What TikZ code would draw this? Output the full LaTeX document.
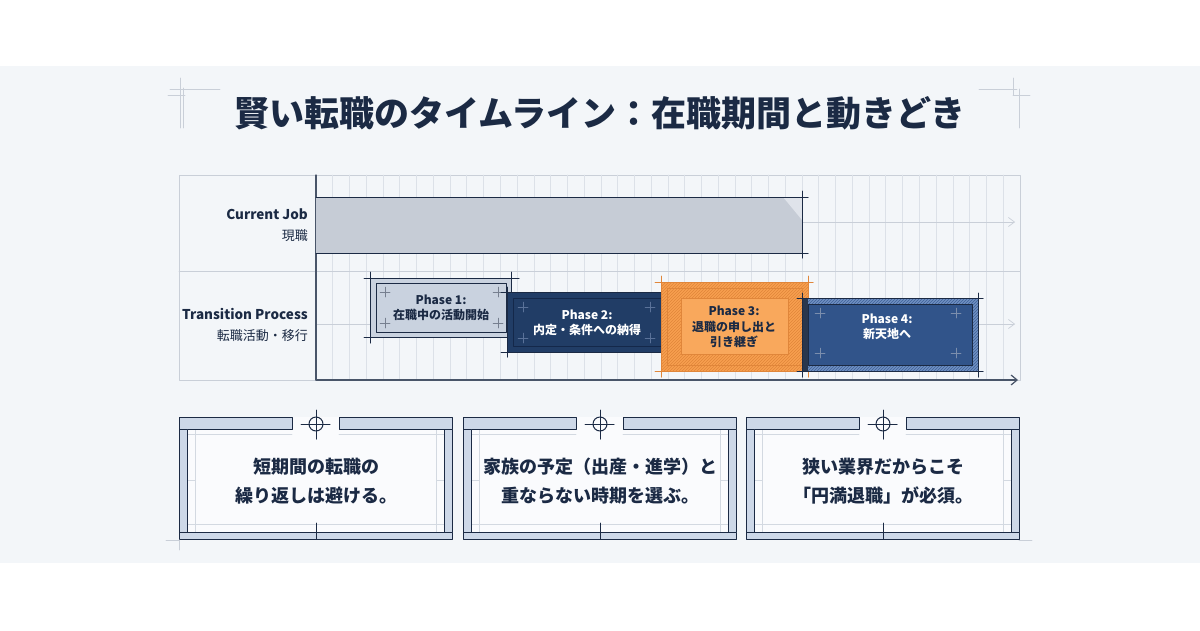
\documentclass[tikz,border=0pt]{standalone}
\usepackage{fontspec}
\setmainfont{Noto Sans CJK JP}
\usetikzlibrary{patterns,arrows.meta}

\definecolor{ink}{HTML}{1B2A44}
\definecolor{panel}{HTML}{F3F6F9}
\definecolor{gridgray}{HTML}{DCE1E8}
\definecolor{framegray}{HTML}{C9CFD8}
\definecolor{barsoft}{HTML}{C6CCD6}
\definecolor{barlight}{HTML}{DFE3EA}
\definecolor{phaseone}{HTML}{C9D2DF}
\definecolor{phasetwo}{HTML}{213D66}
\definecolor{phasetwoline}{HTML}{14284A}
\definecolor{phasetwoplus}{HTML}{5A7299}
\definecolor{phasethree}{HTML}{F7A04F}
\definecolor{phasethreein}{HTML}{F9A85C}
\definecolor{phasethreeline}{HTML}{E0863A}
\definecolor{phasefour}{HTML}{31548A}
\definecolor{phasefourstrip}{HTML}{7090C2}
\definecolor{phasefourhatch}{HTML}{3F6198}
\definecolor{stripblue}{HTML}{CDD8E8}
\definecolor{noteline}{HTML}{D3D9E1}

\tikzset{plusmk/.pic={\draw (-5,0) -- (5,0) (0,-5) -- (0,5);}}

\begin{document}
\begin{tikzpicture}[x=1pt, y=-1pt, line join=round, line cap=round,
  grid/.style={draw=gridgray, line width=0.7pt},
  edge/.style={draw=ink, line width=1pt},
  lab/.style={font=\bfseries\fontsize{13.5}{16}\selectfont, text=ink, anchor=east, inner sep=0pt},
  sublab/.style={font=\fontsize{13}{16}\selectfont, text=ink, anchor=east, inner sep=0pt},
  ph/.style={font=\bfseries\fontsize{12}{15.5}\selectfont, align=center, inner sep=0pt},
  note/.style={font=\bfseries\fontsize{18}{29}\selectfont, text=ink, align=center, inner sep=0pt},
  strip/.style={fill=stripblue, draw=ink, line width=0.9pt}
]
  \useasboundingbox (0,0) rectangle (1200,630);
  \fill[white] (0,0) rectangle (1200,630);
  \fill[panel] (0,66) rectangle (1200,563);

  % corner marks round the title
  \draw[framegray, line width=0.6pt] (170,89) -- (220,89) (180,78) -- (180,128)
    (168,95) -- (185,95) (183,88) -- (183,128);
  \draw[framegray, line width=0.6pt] (979,89) -- (1017,89) (1013,78) -- (1013,95)
    (1019,89) -- (1019,128) (1013,95) -- (1030,95);

  \node[text=ink, inner sep=0pt] (title) at (600,113)
    {\bfseries\fontsize{35}{40}\selectfont 賢い転職のタイムライン：在職期間と動きどき};

  % chart frame and grid
  \draw[framegray, line width=0.8pt] (179,175) rectangle (1020,380);
  \foreach \i in {1,...,41}
    \draw[grid] ({316+\i*16.76},175) -- ({316+\i*16.76},380);
  \draw[framegray, line width=0.8pt] (179,271) -- (1020,271);
  \draw[grid, draw=framegray, -{Straight Barb[length=6pt,width=9pt]}] (316,222) -- (1015,222);
  \draw[grid, draw=framegray, -{Straight Barb[length=6pt,width=9pt]}] (316,324) -- (1015,324);
  \draw[draw=ink!80, line width=1.2pt] (316,175) -- (316,380);
  \draw[draw=ink!80, line width=1.2pt, -{Straight Barb[length=6pt,width=10pt]}] (316,380) -- (1018,380);

  % row labels
  \node[lab] (curjob) at (308,214) {Current Job};
  \node[sublab] (curjobjp) at (308,236) {現職};
  \node[lab] (trans) at (308,314) {Transition Process};
  \node[sublab] (transjp) at (308,336) {転職活動・移行};

  % current job bar
  \fill[barsoft] (316,197) rectangle (802,253);
  \fill[barlight] (783,197) -- (802,197) -- (802,220) -- cycle;
  \draw[edge] (316,197) -- (808,197) (316,253) -- (808,253) (802,191) -- (802,258);

  % phase 1
  \fill[phaseone] (370,278) rectangle (511,337);
  \draw[edge] (364,278) -- (519,278) (364,337) -- (519,337)
    (370,272) -- (370,343) (511,272) -- (511,343);
  \draw[edge, line width=0.7pt] (376,283) rectangle (506,332);
  \foreach \p in {(385,292),(498,292),(385,323),(498,323)}
    \pic[draw=ink!60, line width=0.5pt] at \p {plusmk};
  \node[ph, text=ink] (ph1) at (441,308) {Phase 1:\\在職中の活動開始};

  % phase 2
  \fill[phasetwo] (507,292) rectangle (667,352);
  \draw[draw=phasetwoline, line width=0.8pt] (513,298) rectangle (661,346);
  \draw[edge] (501,292) -- (672,292) (501,352) -- (672,352)
    (507,287) -- (507,357) (667,287) -- (667,357);
  \foreach \p in {(523,307),(650,307),(523,338),(650,338)}
    \pic[draw=phasetwoplus, line width=0.5pt] at \p {plusmk};
  \node[ph, text=white] (ph2) at (587,323) {Phase 2:\\内定・条件への納得};

  % phase 3
  \fill[phasethree] (661,282) rectangle (808,371);
  \fill[pattern=north east lines, pattern color=phasethreeline] (661,282) rectangle (808,371);
  \draw[phasethreeline, line width=0.6pt] (667,288) rectangle (802,365);
  \draw[fill=phasethreein, draw=phasethreeline, line width=0.9pt] (681,298) rectangle (788,354);
  \draw[phasethreeline, line width=1pt] (655,282) -- (813,282) (655,371) -- (813,371)
    (661,276) -- (661,377) (808,276) -- (808,377);
  \node[ph, text=ink] (ph3) at (734,327) {Phase 3:\\退職の申し出と\\引き継ぎ};

  % phase 4
  \fill[phasefour] (802,298) rectangle (978,371);
  \foreach \r in {{(808,298) rectangle (972,304)},{(808,365) rectangle (972,371)},{(972,298) rectangle (978,371)}} {
    \fill[phasefourstrip] \r;
    \fill[pattern=north east lines, pattern color=phasefourhatch] \r;
  }
  \fill[ink!85!gray] (802,298) rectangle (808,371);
  \draw[edge, line width=0.8pt] (808,304) rectangle (972,365);
  \draw[edge] (797,298) -- (983,298) (797,371) -- (983,371)
    (802,293) -- (802,377) (978,293) -- (978,377);
  \foreach \p in {(820,313),(956,313),(820,353),(956,353)}
    \pic[draw=phasetwoplus!80!white, line width=0.5pt] at \p {plusmk};
  \node[ph, text=white] (ph4) at (887,327) {Phase 4:\\新天地へ};

  % note boxes
  \foreach \cx/\nm/\txt in {316/a/{短期間の転職の\\繰り返しは避ける。},
      600/b/{家族の予定（出産・進学）と\\重ならない時期を選ぶ。},
      883/c/{狭い業界だからこそ\\「円満退職」が必須。}} {
    \fill[white!60!panel] ({\cx-136.5},417) rectangle ({\cx+136.5},539);
    \draw[noteline, line width=0.6pt] ({\cx-120.5},429) -- ({\cx-120.5},532)
      ({\cx+120.5},429) -- ({\cx+120.5},532) ({\cx-128.5},524) -- ({\cx+128.5},524)
      ({\cx-128.5},480) -- ({\cx-120.5},480) ({\cx+120.5},480) -- ({\cx+128.5},480)
      ({\cx-128.5},434) -- ({\cx-24},434) ({\cx+23},434) -- ({\cx+128.5},434);
    \draw[strip] ({\cx-136.5},417) rectangle ({\cx-24},429);
    \draw[strip] ({\cx+23},417) rectangle ({\cx+136.5},429);
    \draw[strip] ({\cx-136.5},429) rectangle ({\cx-128.5},532);
    \draw[strip] ({\cx+128.5},429) rectangle ({\cx+136.5},532);
    \draw[strip] ({\cx-136.5},532) rectangle ({\cx+136.5},539);
    \draw[draw=ink, line width=0.9pt] (\cx,523) -- (\cx,539);
    \draw[draw=ink, line width=1pt] (\cx,424) circle (7);
    \draw[draw=ink, line width=1pt] ({\cx-15},424) -- ({\cx+14},424) (\cx,410) -- (\cx,439);
    \node[note] (note\nm) at (\cx,481) {\txt};
  }
  \draw[framegray, line width=0.6pt] (166,540) -- (179,540) (179,540) -- (179,550)
    (1019,540) -- (1032,540);
\end{tikzpicture}
\end{document}
